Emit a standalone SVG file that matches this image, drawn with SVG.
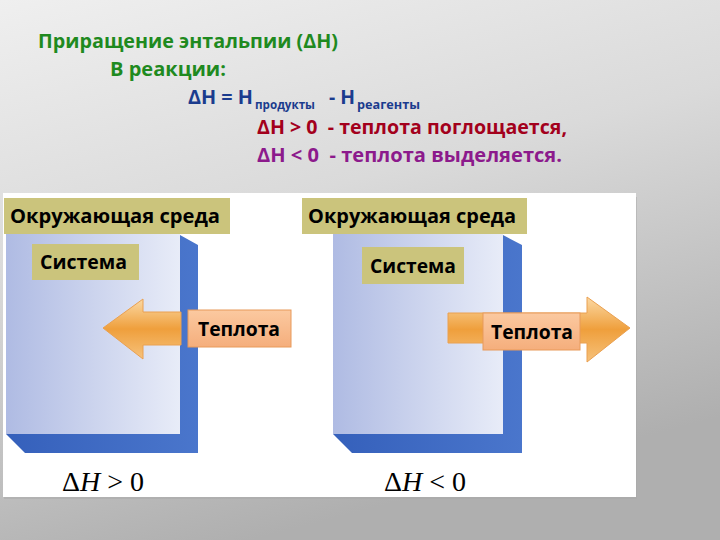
<svg xmlns="http://www.w3.org/2000/svg" width="720" height="540" viewBox="0 0 720 540">
<defs>
<linearGradient id="bg" x1="0" y1="0" x2="0.35" y2="1">
<stop offset="0" stop-color="#efefef"/>
<stop offset="0.45" stop-color="#dadada"/>
<stop offset="1" stop-color="#afafaf"/>
</linearGradient>
<linearGradient id="face" x1="0" y1="0" x2="1" y2="0">
<stop offset="0" stop-color="#afbbe3"/>
<stop offset="1" stop-color="#e8ecf8"/>
</linearGradient>
<linearGradient id="side" x1="0" y1="0" x2="1" y2="0">
<stop offset="0" stop-color="#3560bb"/>
<stop offset="1" stop-color="#4a76cc"/>
</linearGradient>
<linearGradient id="arr" x1="0" y1="0" x2="0" y2="1">
<stop offset="0" stop-color="#fbd9a4"/>
<stop offset="0.5" stop-color="#ef9f3c"/>
<stop offset="1" stop-color="#f6c27c"/>
</linearGradient>
<linearGradient id="heat" x1="0" y1="0" x2="0" y2="1">
<stop offset="0" stop-color="#fbc9a0"/>
<stop offset="1" stop-color="#f5ae7c"/>
</linearGradient>
</defs>
<style>
.t{font-family:"Open Sans","Liberation Sans",sans-serif;font-weight:bold;white-space:pre}
.env{fill:#cbc47c}
.lbl{font-family:"Open Sans","Liberation Sans",sans-serif;font-weight:bold;font-size:20px;fill:#000}
.face{fill:url(#face)}
.side{fill:url(#side)}
.heat{fill:url(#heat);stroke:#e89a5a;stroke-width:1}
.arrow{fill:url(#arr);stroke:#eaa050;stroke-width:1}
.math{font-family:"Liberation Serif","DejaVu Serif",serif;font-size:28px;fill:#000}
</style>
<rect width="720" height="540" fill="url(#bg)"/>
<g id="header">
<text class="t" x="38" y="48" font-size="20" fill="#1f8a1f" textLength="300" lengthAdjust="spacingAndGlyphs">Приращение энтальпии (ΔH)</text>
<text class="t" x="110" y="76" font-size="20" fill="#1f8a1f" textLength="116" lengthAdjust="spacingAndGlyphs">В реакции:</text>
<text class="t" x="188" y="104" font-size="20" fill="#1b3c8e" textLength="65" lengthAdjust="spacingAndGlyphs">ΔH = H</text>
<text class="t" x="255" y="109" font-size="13" fill="#1b3c8e" textLength="60" lengthAdjust="spacingAndGlyphs">продукты</text>
<text class="t" x="329" y="104" font-size="20" fill="#1b3c8e" textLength="26" lengthAdjust="spacingAndGlyphs">- H</text>
<text class="t" x="357" y="109" font-size="13" fill="#1b3c8e" textLength="63" lengthAdjust="spacingAndGlyphs">реагенты</text>
<text class="t" x="257" y="134" font-size="20" fill="#a3001c" textLength="310" lengthAdjust="spacingAndGlyphs">ΔH &gt; 0  - теплота поглощается,</text>
<text class="t" x="257" y="162" font-size="20" fill="#8c1a8c" textLength="305" lengthAdjust="spacingAndGlyphs">ΔH &lt; 0  - теплота выделяется.</text>
</g>
<rect x="4" y="197" width="633" height="302" fill="#a8a8a8" opacity="0.5"/>
<rect x="3" y="193" width="633" height="304" fill="#ffffff"/>
<g id="system-left">
<rect class="face" x="6" y="234" width="174" height="200"/>
<polygon class="side" points="180,235 198,245 198,453 25,453 6,434 180,434"/>
</g>
<g id="system-right">
<rect class="face" x="333" y="234" width="170" height="200"/>
<polygon class="side" points="503,235 522,245 522,453 352,453 333,434 503,434"/>
</g>
<g id="connectors">
<polygon class="arrow" points="103,328 143,299 143,312 181,312 181,345 143,345 143,359"/>
<polygon class="arrow" points="448,313 587,313 587,297 630,328 587,362 587,343 448,343"/>
</g>
<g id="env-left">
<rect class="env" x="4" y="198" width="226" height="36"/>
<text class="lbl" x="10" y="223" textLength="210" lengthAdjust="spacingAndGlyphs">Окружающая среда</text>
</g>
<g id="env-right">
<rect class="env" x="302" y="198" width="225" height="36"/>
<text class="lbl" x="308" y="223" textLength="208" lengthAdjust="spacingAndGlyphs">Окружающая среда</text>
</g>
<g id="sys-label-left">
<rect class="env" x="32" y="244" width="107" height="36"/>
<text class="lbl" x="40" y="269" textLength="87" lengthAdjust="spacingAndGlyphs">Система</text>
</g>
<g id="sys-label-right">
<rect class="env" x="362" y="247" width="102" height="37"/>
<text class="lbl" x="370" y="273" textLength="86" lengthAdjust="spacingAndGlyphs">Система</text>
</g>
<g id="heat-left">
<rect class="heat" x="188" y="310" width="103" height="37"/>
<text class="lbl" x="198" y="336" textLength="82" lengthAdjust="spacingAndGlyphs">Теплота</text>
</g>
<g id="heat-right">
<rect class="heat" x="483" y="313" width="97" height="37"/>
<text class="lbl" x="491" y="339" textLength="82" lengthAdjust="spacingAndGlyphs">Теплота</text>
</g>
<g id="dh-left">
<text class="math" x="62" y="491">Δ<tspan font-style="italic">H</tspan> &gt; 0</text>
</g>
<g id="dh-right">
<text class="math" x="384" y="491">Δ<tspan font-style="italic">H</tspan> &lt; 0</text>
</g>
</svg>
